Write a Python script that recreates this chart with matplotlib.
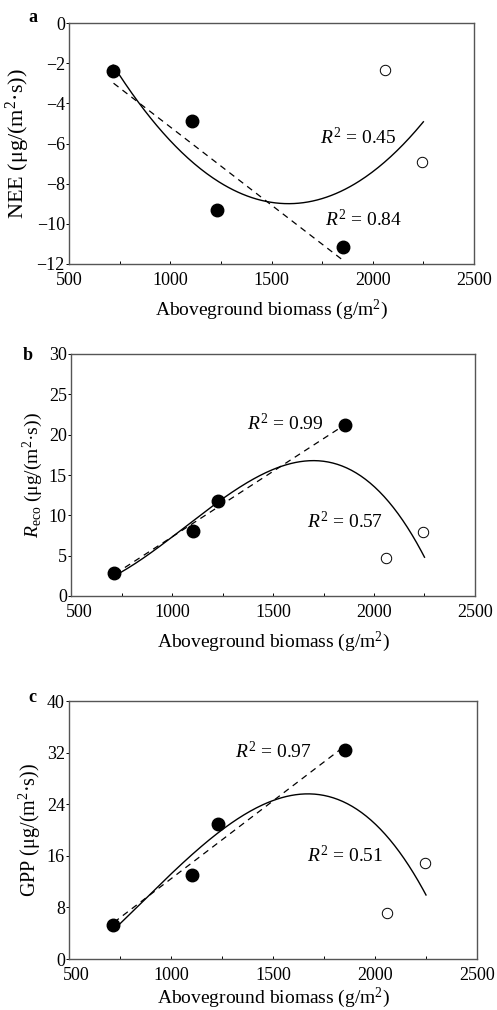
import numpy as np
import matplotlib.pyplot as plt
from matplotlib.ticker import MultipleLocator
from matplotlib.transforms import ScaledTranslation

plt.rcParams['font.family'] = ['Liberation Serif', 'DejaVu Serif']
plt.rcParams['mathtext.fontset'] = 'custom'
plt.rcParams['mathtext.rm'] = 'Liberation Serif'
plt.rcParams['mathtext.it'] = 'Liberation Serif:italic'

# aboveground biomass (g/m2); filled = used in linear fit, open = extra sites
x_fill = [715, 1105, 1230, 1855]
x_open = [2060, 2245]
x_ticks = [500, 1000, 1500, 2000, 2500]

nee_fill = [-2.4, -4.9, -9.3, -11.15]
nee_open = [-2.35, -6.9]
reco_fill = [2.9, 8.1, 11.8, 21.2]
reco_open = [4.7, 7.9]
gpp_fill = [5.2, 13.0, 21.0, 32.4]
gpp_open = [7.1, 14.9]

r2_lin = ['0.84', '0.99', '0.97']
r2_poly = ['0.45', '0.57', '0.51']

fig = plt.figure(figsize=(4.97, 10.1), dpi=100)
W, H = 497.0, 1010.0
# axes boxes in pixels: left, top, right, bottom
boxes = [(69, 23, 474, 264), (71, 354, 475, 596), (69, 701, 477, 959)]
tags_px = [(33, 17), (28, 355), (32, 698)]
first_shift = [0, 8, 7]  # px shift of the "500" label

panels = [
    ('a', nee_fill, nee_open, (-12, 0), 2, 'NEE (μg/(m$^2$·s))', 16, 2, (1764, -9.8), (1740, -5.7)),
    ('b', reco_fill, reco_open, (0, 30), 5, '$R_{\\rm eco}$ (μg/(m$^2$·s))', 14, 3, (1371, 21.4), (1668, 9.2)),
    ('c', gpp_fill, gpp_open, (0, 40), 8, 'GPP (μg/(m$^2$·s))', 14.5, 3, (1314, 32.1), (1667, 16.1)),
]

axes = []
for i, (tag, yf, yo, ylim, ystep, ylab, ylfs, deg, pos_lin, pos_poly) in enumerate(panels):
    l, t, r, b = boxes[i]
    ax = fig.add_axes([l / W, 1 - b / H, (r - l) / W, (b - t) / H])
    axes.append(ax)

    xf = np.array(x_fill, float)
    xa = np.array(x_fill + x_open, float)
    ya = np.array(yf + yo, float)

    # linear fit through filled points
    k = np.polyfit(xf, yf, 1)
    xl = np.linspace(720, 1845, 50)
    ax.plot(xl, np.polyval(k, xl), 'k--', lw=0.9, dashes=(5, 4))

    # polynomial fit through all points
    c = np.polyfit(xa, ya, deg)
    xp = np.linspace(718, 2250, 200)
    ax.plot(xp, np.polyval(c, xp), 'k-', lw=1.0)

    ax.plot(x_fill, yf, 'o', ms=9, mfc='k', mec='k')
    ax.plot(x_open, yo, 'o', ms=7.5, mfc='white', mec='k', mew=0.7)

    ax.set_xlim(500, 2500)
    ax.set_ylim(*ylim)
    ax.set_xticks(x_ticks)
    ax.xaxis.set_minor_locator(MultipleLocator(250))
    ax.yaxis.set_major_locator(MultipleLocator(ystep))
    ax.tick_params(axis='x', which='both', direction='in', length=2, width=0.7,
                   labelsize=13, pad=6)
    ax.tick_params(axis='y', direction='out', length=2, width=0.7, labelsize=13, pad=1)
    for s in ax.spines.values():
        s.set_color('#555555')
        s.set_linewidth(1.0)
    ax.set_xlabel('Aboveground biomass (g/m$^2$)', fontsize=14, labelpad=6 if i < 2 else 1)
    ax.set_ylabel(ylab, fontsize=ylfs, labelpad=3)

    ax.text(*pos_lin, '$R^2$ = ' + r2_lin[i], fontsize=14, ha='left', va='center')
    ax.text(*pos_poly, '$R^2$ = ' + r2_poly[i], fontsize=14, ha='left', va='center')
    tx, ty = tags_px[i]
    fig.text(tx / W, 1 - ty / H, tag, fontsize=13, fontweight='bold',
             ha='center', va='center')

fig.canvas.draw()
for ax, dx in zip(axes, first_shift):
    if dx:
        lab = ax.xaxis.get_major_ticks()[0].label1
        lab.set_transform(lab.get_transform() +
                          ScaledTranslation(dx / 100, 0, fig.dpi_scale_trans))

fig.savefig('out.png', dpi=100)
